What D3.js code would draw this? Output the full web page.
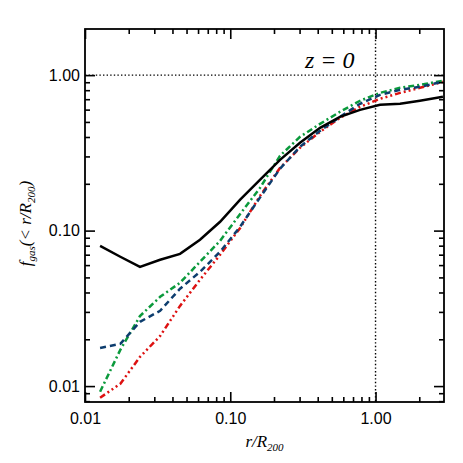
<!DOCTYPE html>
<html>
<head>
<meta charset="utf-8">
<script src="https://cdn.jsdelivr.net/npm/d3@7/dist/d3.min.js"></script>
<style>
	body { margin: 0; background: #fff; }
	.tick text { font-family: "Liberation Sans", Arial, Helvetica, sans-serif; font-size: 16px; fill: #000; }
	text.ttl { font-family: "Liberation Serif", "Times New Roman", "DejaVu Serif", serif; font-style: italic; fill: #000; }
</style>
</head>
<body>
<div id="vis"></div>
<script>

// radius bins (r/R200)
var radius = [0.0127, 0.0175, 0.0239, 0.0329, 0.0451, 0.0619, 0.0851, 0.117, 0.160, 0.220,
	0.302, 0.415, 0.569, 0.782, 1.074, 1.475, 2.02, 2.91];

// cumulative gas fractions, one per run
var fgasSolid   = [0.0798, 0.0679, 0.0585, 0.0649, 0.0709, 0.0873, 0.114, 0.158, 0.212, 0.285,
	0.367, 0.458, 0.539, 0.598, 0.644, 0.654, 0.684, 0.725];
var fgasDashed  = [0.0176, 0.0187, 0.0259, 0.0305, 0.0423, 0.0543, 0.0731, 0.106, 0.163, 0.250,
	0.346, 0.438, 0.539, 0.654, 0.747, 0.804, 0.841, 0.906];
var fgasDashDot = [0.0092, 0.0171, 0.0282, 0.0375, 0.0462, 0.0630, 0.0860, 0.128, 0.188, 0.303,
	0.401, 0.486, 0.581, 0.684, 0.769, 0.829, 0.866, 0.919];
var fgasDash3Dot = [0.00841, 0.01035, 0.0154, 0.0210, 0.0328, 0.0483, 0.0699, 0.104, 0.167, 0.253,
	0.341, 0.432, 0.531, 0.625, 0.704, 0.769, 0.829, 0.906];

var xMajor = [0.01, 0.1, 1];
var yMajor = [0.01, 0.1, 1];

var series = [
	{ vals: fgasSolid, color: '#000000', dash: null, w: 2.5 },
	{ vals: fgasDashed, color: '#0d3d6e', dash: '6,4', w: 2.5 },
	{ vals: fgasDashDot, color: '#0b9a3c', dash: '6,3,2,3', w: 2.5 },
	{ vals: fgasDash3Dot, color: '#dd1111', dash: '6,3,2,3,2,3,2,3', w: 2.5 }
];

var margin = { top: 29, right: 19, bottom: 61, left: 85 };
var dim = { w: 463 - margin.left - margin.right, h: 463 - margin.top - margin.bottom };

var svg = d3.select('#vis').append('svg')
	.attr('width', 463)
	.attr('height', 463)
	.append('g')
	.attr('transform', 'translate(' + margin.left + ',' + margin.top + ')');

var x = d3.scaleLog().domain([0.01, 2.96]).range([0, dim.w]);
var y = d3.scaleLog().domain([0.0079, 1.98]).range([dim.h, 0]);

var isMajor = function (d) { return Math.abs(Math.log10(d) - Math.round(Math.log10(d))) < 1e-6; };
var xMinor = x.ticks().filter(function (d) { return !isMajor(d); });
var yMinor = y.ticks().filter(function (d) { return !isMajor(d); });
var fmt = d3.format('.2f');

function styleAxis(g) {
	g.select('.domain').remove();
	g.selectAll('.tick line').attr('stroke', '#000').attr('stroke-width', 1.6);
}

// clip for curves
svg.append('clipPath').attr('id', 'clip')
	.append('rect').attr('width', dim.w).attr('height', dim.h);

// reference lines
svg.append('line')
	.attr('x1', 0).attr('x2', dim.w)
	.attr('y1', y(1)).attr('y2', y(1))
	.attr('stroke', '#000').attr('stroke-width', 1.4).attr('stroke-dasharray', '1.4,2.2');
svg.append('line')
	.attr('x1', x(1)).attr('x2', x(1))
	.attr('y1', 0).attr('y2', dim.h)
	.attr('stroke', '#000').attr('stroke-width', 1.4).attr('stroke-dasharray', '1.4,2.2');

// curves
var line = d3.line()
	.x(function (d) { return x(d[0]); })
	.y(function (d) { return y(d[1]); });

series.slice().reverse().forEach(function (s) {
	svg.append('path')
		.datum(d3.zip(radius, s.vals))
		.attr('d', line)
		.attr('clip-path', 'url(#clip)')
		.attr('fill', 'none')
		.attr('stroke', s.color)
		.attr('stroke-width', s.w)
		.attr('stroke-dasharray', s.dash);
});

// axes: bottom / top / left / right, ticks inward
svg.append('g').attr('transform', 'translate(0,' + dim.h + ')')
	.call(d3.axisBottom(x).tickValues(xMajor).tickFormat(fmt).tickSize(-10).tickPadding(11))
	.call(styleAxis);
svg.append('g').attr('transform', 'translate(0,' + dim.h + ')')
	.call(d3.axisBottom(x).tickValues(xMinor).tickFormat('').tickSize(-5))
	.call(styleAxis);
svg.append('g')
	.call(d3.axisTop(x).tickValues(xMajor).tickFormat('').tickSize(-10))
	.call(styleAxis);
svg.append('g')
	.call(d3.axisTop(x).tickValues(xMinor).tickFormat('').tickSize(-5))
	.call(styleAxis);

svg.append('g')
	.call(d3.axisLeft(y).tickValues(yMajor).tickFormat(fmt).tickSize(-10).tickPadding(5))
	.call(styleAxis);
svg.append('g')
	.call(d3.axisLeft(y).tickValues(yMinor).tickFormat('').tickSize(-5))
	.call(styleAxis);
svg.append('g').attr('transform', 'translate(' + dim.w + ',0)')
	.call(d3.axisRight(y).tickValues(yMajor).tickFormat('').tickSize(-10))
	.call(styleAxis);
svg.append('g').attr('transform', 'translate(' + dim.w + ',0)')
	.call(d3.axisRight(y).tickValues(yMinor).tickFormat('').tickSize(-5))
	.call(styleAxis);

// frame
svg.append('rect')
	.attr('width', dim.w).attr('height', dim.h)
	.attr('fill', 'none').attr('stroke', '#000').attr('stroke-width', 1.8);

// titles
var serif = '"Liberation Serif", "DejaVu Serif", serif';

var xt = svg.append('text')
	.attr('class', 'ttl')
	.attr('x', dim.w / 2)
	.attr('y', dim.h + 45)
	.attr('text-anchor', 'middle')
	.attr('font-family', serif)
	.attr('font-style', 'italic')
	.style('font-size', '17px');
xt.append('tspan').text('r/R');
xt.append('tspan').attr('dy', 4).style('font-size', '11px').text('200');

var yt = svg.append('text')
	.attr('class', 'ttl')
	.attr('transform', 'translate(' + (31 - margin.left) + ',' + (dim.h / 2 + 8) + ') rotate(-90)')
	.attr('text-anchor', 'middle')
	.attr('font-family', serif)
	.attr('font-style', 'italic')
	.style('font-size', '17px');
yt.append('tspan').text('f');
yt.append('tspan').attr('dy', 4).style('font-size', '11px').text('gas');
yt.append('tspan').attr('dy', -4).text('(< r/R');
yt.append('tspan').attr('dy', 4).style('font-size', '11px').text('200');
yt.append('tspan').attr('dy', -4).text(')');

svg.append('text')
	.attr('class', 'ttl')
	.attr('x', 305 - margin.left)
	.attr('y', 68 - margin.top)
	.attr('font-family', serif)
	.attr('font-style', 'italic')
	.style('font-size', '24px')
	.text('z = 0');

</script>
</body>
</html>
